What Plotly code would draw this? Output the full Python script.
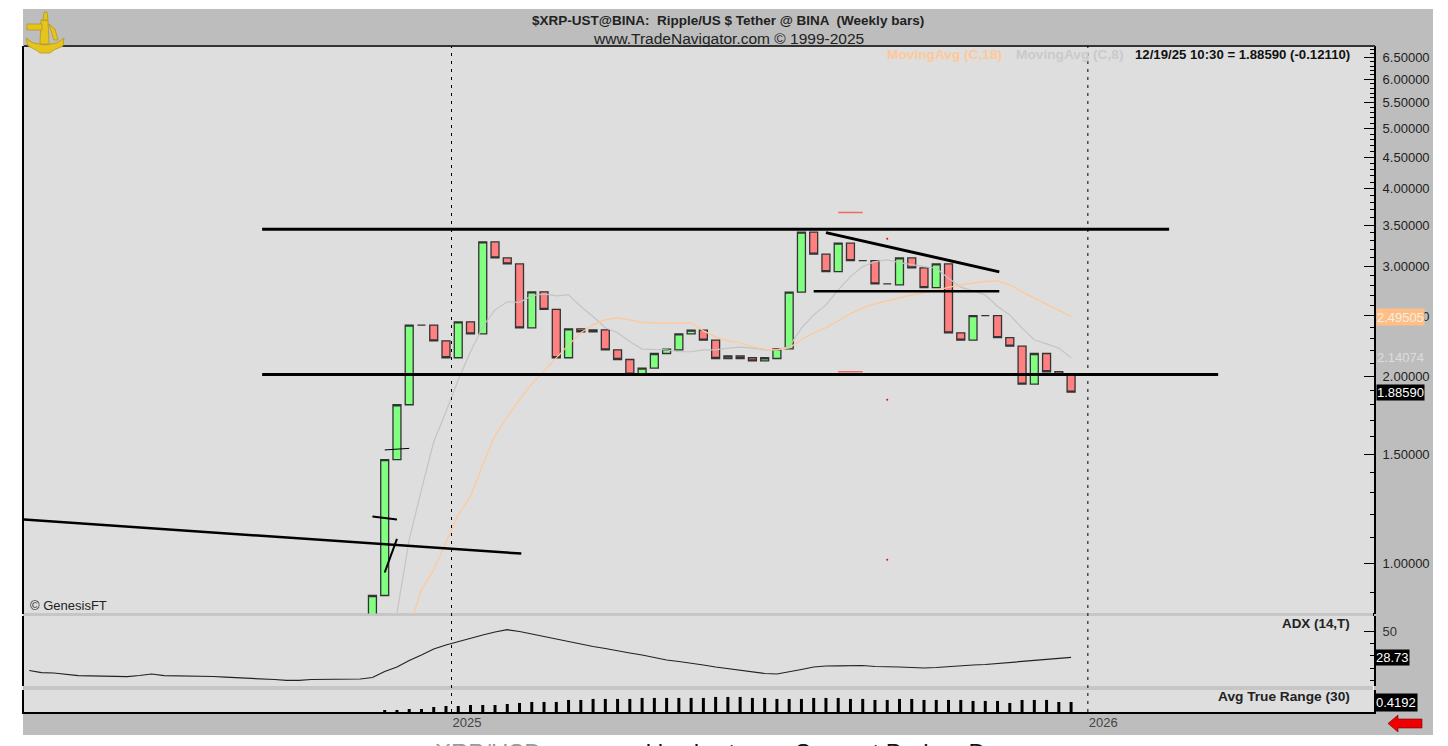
import math
import pandas as pd
import plotly.graph_objects as go

W, H = 1448, 746

# weekly stamps for the whole window, the ADX runs over all of them
week_dates = pd.date_range(end="2025-12-20", periods=86, freq="7D")

# candles start later, everything before is below the visible price range
bar_open = [0.755, 0.889, 1.469, 1.800, 2.417, 2.417, 2.280, 2.142, 2.446, 2.340, 3.288, 3.099, 3.031, 2.393, 2.733,
            2.562, 2.142, 2.384, 2.358, 2.375, 2.206, 2.128, 2.016, 2.062, 2.176, 2.206, 2.340, 2.372, 2.286, 2.136,
            2.157, 2.142, 2.118, 2.136, 2.214, 2.730, 3.408, 3.142, 2.946, 3.272, 3.068, 3.068, 2.815, 2.805, 3.099,
            2.987, 2.777, 3.031, 2.349, 2.286, 2.504, 2.504, 2.308, 2.236, 1.943, 2.176, 2.034, 2.007]
bar_close = [0.889, 1.469, 1.800, 2.417, 2.417, 2.280, 2.142, 2.446, 2.340, 3.288, 3.099, 3.031, 2.393, 2.733, 2.562,
             2.142, 2.384, 2.358, 2.375, 2.206, 2.128, 2.016, 2.062, 2.176, 2.212, 2.340, 2.372, 2.286, 2.136, 2.157,
             2.136, 2.118, 2.142, 2.214, 2.730, 3.408, 3.142, 2.946, 3.272, 3.068, 3.068, 2.815, 2.815, 3.099, 2.987,
             2.777, 3.031, 2.349, 2.286, 2.504, 2.504, 2.308, 2.236, 1.943, 2.176, 2.034, 2.007, 1.8859]

ma8 = [0.834, 1.093, 1.315, 1.570, 1.754, 1.974, 2.190, 2.402, 2.557, 2.634, 2.629, 2.693, 2.713, 2.693, 2.703,
       2.589, 2.495, 2.393, 2.349, 2.274, 2.212, 2.206, 2.206, 2.190, 2.190, 2.206, 2.206, 2.220, 2.228, 2.220,
       2.206, 2.206, 2.233, 2.390, 2.510, 2.605, 2.753, 2.892, 3.001, 3.057, 3.076, 3.046, 3.020, 3.001, 2.983,
       2.875, 2.781, 2.738, 2.703, 2.589, 2.510, 2.390, 2.289, 2.255, 2.220, 2.14074]

ma18 = [0.790, 0.909, 0.978, 1.085, 1.199, 1.281, 1.442, 1.605, 1.722, 1.834, 1.945, 2.041, 2.142, 2.247, 2.349,
        2.419, 2.464, 2.483, 2.464, 2.442, 2.437, 2.437, 2.437, 2.437, 2.366, 2.314, 2.280, 2.264, 2.230, 2.210,
        2.206, 2.222, 2.289, 2.349, 2.393, 2.455, 2.520, 2.576, 2.615, 2.644, 2.673, 2.703, 2.723, 2.753, 2.779,
        2.805, 2.826, 2.841, 2.847, 2.805, 2.733, 2.673, 2.615, 2.557, 2.49505]

adx = [18.15, 16.37, 16.13, 14.92, 13.95, 13.87, 13.71, 13.15, 13.15, 14.11, 15.32, 13.95, 13.87, 13.71, 13.71,
       13.31, 12.74, 12.34, 12.10, 11.69, 10.89, 10.24, 10.24, 10.89, 11.05, 11.45, 11.53, 11.29, 12.50, 17.34,
       20.97, 26.21, 30.65, 35.48, 38.71, 41.53, 43.95, 46.77, 49.19, 51.05, 49.60, 47.58, 45.56, 43.55, 41.13,
       39.11, 37.50, 35.89, 33.87, 32.26, 30.65, 28.63, 26.61, 25.40, 24.19, 22.58, 20.97, 19.76, 18.55, 16.94,
       15.73, 15.32, 16.94, 18.95, 20.97, 21.77, 21.94, 22.18, 22.18, 21.37, 21.37, 20.97, 20.56, 20.16, 20.56,
       21.37, 22.18, 22.58, 22.98, 23.79, 24.60, 25.81, 26.61, 27.42, 28.23, 28.73]

atr = [0.084, 0.084, 0.126, 0.126, 0.210, 0.252, 0.252, 0.294, 0.294, 0.294, 0.336, 0.378, 0.420, 0.420, 0.420,
       0.504, 0.504, 0.546, 0.546, 0.546, 0.546, 0.588, 0.588, 0.588, 0.588, 0.588, 0.588, 0.630, 0.630, 0.630,
       0.588, 0.588, 0.546, 0.546, 0.546, 0.588, 0.588, 0.588, 0.546, 0.546, 0.504, 0.504, 0.546, 0.546, 0.504,
       0.504, 0.504, 0.504, 0.462, 0.462, 0.462, 0.378, 0.504, 0.504, 0.504, 0.4192, 0.4192]

# hand drawn lines on the chart
resistance_x, resistance_y = ["2024-09-14", "2026-02-14"], [3.446, 3.446]
support_x, support_y = ["2024-09-14", "2026-03-14"], [2.013, 2.013]
neckline_x, neckline_y = ["2025-07-26", "2025-11-09"], [2.740, 2.740]
wedge_x, wedge_y = ["2025-08-02", "2025-11-09"], [3.403, 2.943]
downtrend_x, downtrend_y = ["2024-05-01", "2025-02-09"], [1.177, 1.038]
cross_x, cross_y = ["2024-11-16", "2024-11-30"], [1.191, 1.178]
slash_x, slash_y = ["2024-11-23", "2024-11-30"], [0.968, 1.096]
tick_x, tick_y = ["2024-11-23", "2024-12-07"], [1.523, 1.532]

# stray red marks
red_high_x, red_high_y = ["2025-08-09", "2025-08-23"], [3.664, 3.664]
red_low_x, red_low_y = ["2025-08-09", "2025-08-23"], [2.034, 2.034]
red_dot_x, red_dot_y = ["2025-09-06", "2025-09-06", "2025-09-06"], [3.325, 1.834, 1.015]

year_lines = ["2024-12-31 04:00", "2025-12-29 14:00"]
year_labels = ["2025", "2026"]

price_ticks = [1.0, 1.5, 2.0, 2.5, 3.0, 3.5, 4.0, 4.5, 5.0, 5.5, 6.0, 6.5]
price_labels = ["1.00000", "1.50000", "2.00000", "2.50000", "3.00000", "3.50000", "4.00000", "4.50000", "5.00000",
                "5.50000", "6.00000", "6.50000"]
price_minor = [v / 10 for v in range(9, 68)]


def px_x(x):
    return x / W


def px_y(y):
    return 1 - y / H


def px_path(points):
    return "M " + " L ".join(f"{px_x(x):.5f},{px_y(y):.5f}" for x, y in points) + " Z"


def band(x0, x1, y0, y1, color='#BDBDBD'):
    return {'type': 'rect', 'xref': 'paper', 'yref': 'paper', 'x0': px_x(x0), 'x1': px_x(x1), 'y0': px_y(y1),
            'y1': px_y(y0), 'fillcolor': color, 'line': {'width': 0}, 'layer': 'below'}


candle_dates = week_dates[-len(bar_open):]
fig = go.Figure()

fig.add_trace(go.Candlestick(x=candle_dates, open=bar_open, close=bar_close,
                             high=[max(o, c) for o, c in zip(bar_open, bar_close)],
                             low=[min(o, c) for o, c in zip(bar_open, bar_close)],
                             increasing={'fillcolor': '#80FF80', 'line': {'color': '#333333', 'width': 1.3}},
                             decreasing={'fillcolor': '#FF8080', 'line': {'color': '#333333', 'width': 1.3}},
                             whiskerwidth=0, yaxis='y'))
fig.add_trace(go.Scatter(x=week_dates[-len(ma8):], y=ma8, mode='lines', line={'color': '#C4C4C4', 'width': 1.2}))
fig.add_trace(go.Scatter(x=week_dates[-len(ma18):], y=ma18, mode='lines', line={'color': '#FFC896', 'width': 1.2}))

for xs, ys, lw in [(resistance_x, resistance_y, 3), (support_x, support_y, 3), (neckline_x, neckline_y, 2.5),
                   (wedge_x, wedge_y, 3), (downtrend_x, downtrend_y, 2.5), (cross_x, cross_y, 2),
                   (slash_x, slash_y, 2), (tick_x, tick_y, 1)]:
    fig.add_trace(go.Scatter(x=xs, y=ys, mode='lines', line={'color': 'black', 'width': lw}))

for xs, ys in [(red_high_x, red_high_y), (red_low_x, red_low_y)]:
    fig.add_trace(go.Scatter(x=xs, y=ys, mode='lines', line={'color': '#F06A60', 'width': 1.5}))
fig.add_trace(go.Scatter(x=red_dot_x, y=red_dot_y, mode='markers', marker={'color': 'red', 'size': 2}))

fig.add_trace(go.Scatter(x=week_dates, y=adx, mode='lines', line={'color': '#222222', 'width': 1.2}, yaxis='y2'))
fig.add_trace(go.Bar(x=week_dates[-len(atr):], y=atr, width=148e6, marker={'color': 'black', 'line': {'width': 0}},
                     yaxis='y3'))

shapes = [
    # grey frame around the panes, the panes keep their own background
    band(23, 1433, 9, 46),
    band(23, 1433, 712, 735),
    band(1374, 1433, 46, 712),
    band(23, 24, 46, 712),
    band(24, 1373, 613, 616, '#C6C6C6'),
    band(24, 1373, 686, 690, '#C6C6C6'),
    band(1373, 1374, 613, 616, '#000000'),
    {'type': 'line', 'xref': 'paper', 'yref': 'paper', 'x0': px_x(24), 'x1': px_x(1375), 'y0': px_y(46),
     'y1': px_y(46), 'line': {'color': '#333333', 'width': 2}},
    # red arrow, bottom right
    {'type': 'path', 'xref': 'paper', 'yref': 'paper', 'fillcolor': '#EE0000', 'line': {'color': '#700000', 'width': 0.6},
     'path': px_path([(1388, 723.5), (1398, 715), (1398, 719), (1422, 719), (1422, 728), (1398, 728), (1398, 732)])},
]

# sextant logo, top left
gold = '#E6C420'
for points in [[(26, 38), (33, 43), (45, 45), (57, 43), (64, 38), (63, 46), (54, 50), (50, 53), (40, 53), (36, 50), (28, 46)],
               [(41, 20), (48, 20), (49, 44), (40, 44)],
               [(27, 24), (42, 24), (42, 30), (27, 30)],
               [(44, 12), (47, 12), (48, 20), (43, 20)],
               [(49, 24), (55, 29), (58, 40), (54, 40), (51, 31)]]:
    shapes.append({'type': 'path', 'xref': 'paper', 'yref': 'paper', 'fillcolor': gold,
                   'line': {'color': '#B09010', 'width': 0.7}, 'path': px_path(points)})

for date in year_lines:
    shapes.append({'type': 'line', 'xref': 'x', 'yref': 'paper', 'x0': date, 'x1': date, 'y0': px_y(712),
                   'y1': px_y(46), 'line': {'color': 'black', 'width': 1, 'dash': '3px,5px'}})


def label(text, x, y, size=12, color='#222222', bold=False, anchor='left', **kwargs):
    kwargs.setdefault('xref', 'paper')
    kwargs.setdefault('yref', 'paper')
    return dict(text=f'<b>{text}</b>' if bold else text, x=px_x(x), y=px_y(y) if kwargs['yref'] == 'paper' else y,
                xanchor=anchor, yanchor='middle', showarrow=False, borderpad=0,
                font={'size': size, 'color': color, 'family': 'Liberation Sans'}, **kwargs)


# the caption sits under the picture, only the tops of its letters show
gap = '&nbsp;' * 9
caption = f"<span style='color:#999999'>XRP/USD</span>{gap}weekly chart{gap}Support Broken Down"

annotations = [
    label('$XRP-UST@BINA:  Ripple/US $ Tether @ BINA  (Weekly bars)', 728, 20, size=13.5, bold=True, anchor='center'),
    label('www.TradeNavigator.com © 1999-2025', 728, 38, size=15.5, anchor='center'),
    label('MovingAvg (C,18)', 886, 55, size=13.7, bold=True, color='#FFC896'),
    label('MovingAvg (C,8)', 1015, 55, size=13.7, bold=True, color='#CACACA'),
    label('12/19/25 10:30 = 1.88590 (-0.12110)', 1351, 55, size=13.2, bold=True, color='#111111', anchor='right'),
    label('© GenesisFT', 29, 605, size=13),
    label('ADX (14,T)', 1351, 623, size=13.4, bold=True, anchor='right'),
    label('Avg True Range (30)', 1351, 696, size=13.7, bold=True, anchor='right'),
    label(f'{ma18[-1]:.5f}', 1376, math.log10(ma18[-1]), size=13, color='#F4EFE8', yref='y', bgcolor='#FFBE84',
          width=47, height=16, align='left'),
    label(f'{ma8[-1]:.5f}', 1376, math.log10(ma8[-1]), size=13, color='#DDDDDD', yref='y'),
    label(f'{bar_close[-1]:.5f}', 1376, math.log10(bar_close[-1]), size=13, color='white', yref='y', bgcolor='black',
          width=47, height=15, align='left'),
    label(f'{adx[-1]:.2f}', 1375, adx[-1], size=13, color='white', yref='y2', bgcolor='black', width=33, height=15,
          align='left'),
    label(f'{atr[-1]:.4f}', 1375, 702, size=13, color='white', bgcolor='black', width=41, height=17, align='left'),
    label(caption, 732, 752, size=24, color='#111111', anchor='center'),
]

fig.update_layout(
    width=W, height=H, autosize=False, showlegend=False,
    margin={'l': 0, 'r': 0, 't': 0, 'b': 0},
    paper_bgcolor='white', plot_bgcolor='#DEDEDE',
    boxgap=0.35, boxgroupgap=0, shapes=shapes, annotations=annotations,
    font={'family': 'Liberation Sans', 'color': '#333333'},
    xaxis={'domain': [px_x(24), px_x(1374)], 'type': 'date', 'range': ['2024-05-01', '2026-06-11'], 'anchor': 'y3',
           'rangeslider': {'visible': False}, 'showgrid': False, 'zeroline': False, 'showline': True,
           'linecolor': 'black', 'linewidth': 2, 'tickmode': 'array', 'tickvals': year_lines,
           'ticktext': year_labels, 'ticks': '', 'ticklabelposition': 'outside right', 'ticklabelstandoff': -3,
           'tickfont': {'size': 13, 'color': '#444444'}},
    yaxis={'domain': [px_y(613.5), px_y(46)], 'type': 'log', 'range': [math.log10(0.8317), math.log10(6.786)],
           'side': 'right', 'anchor': 'x', 'showgrid': False, 'zeroline': False, 'showline': True, 'mirror': True,
           'linecolor': 'black', 'linewidth': 2, 'tickmode': 'array', 'tickvals': price_ticks,
           'ticktext': price_labels, 'ticks': 'inside', 'ticklen': 10, 'tickcolor': 'black', 'tickwidth': 1.2,
           'ticklabelstandoff': 4, 'tickfont': {'size': 13, 'color': '#222222'},
           'minor': {'tickmode': 'array', 'tickvals': price_minor, 'ticks': 'inside', 'ticklen': 4,
                     'tickcolor': 'black', 'tickwidth': 1}},
    yaxis2={'domain': [px_y(686), px_y(616)], 'range': [5.65, 62.1], 'side': 'right', 'anchor': 'x',
            'showgrid': False, 'zeroline': False, 'showline': True, 'mirror': True, 'linecolor': 'black',
            'linewidth': 2, 'tickmode': 'array', 'tickvals': [50], 'ticktext': ['50'], 'ticks': 'inside',
            'ticklen': 10, 'tickcolor': 'black', 'ticklabelstandoff': 4, 'tickfont': {'size': 13, 'color': '#333333'},
            'minor': {'tickmode': 'array', 'tickvals': [10, 20, 30, 40], 'ticks': 'inside', 'ticklen': 4,
                      'tickcolor': 'black'}},
    yaxis3={'domain': [px_y(712), px_y(690)], 'range': [0, 0.92], 'side': 'right', 'anchor': 'x', 'showgrid': False,
            'zeroline': False, 'showline': True, 'mirror': True, 'linecolor': 'black', 'linewidth': 2,
            'showticklabels': False, 'ticks': ''},
)

fig.write_html("out.html", config={'displayModeBar': False},
               post_script="document.body.style.margin='0';document.body.style.overflow='hidden';")
